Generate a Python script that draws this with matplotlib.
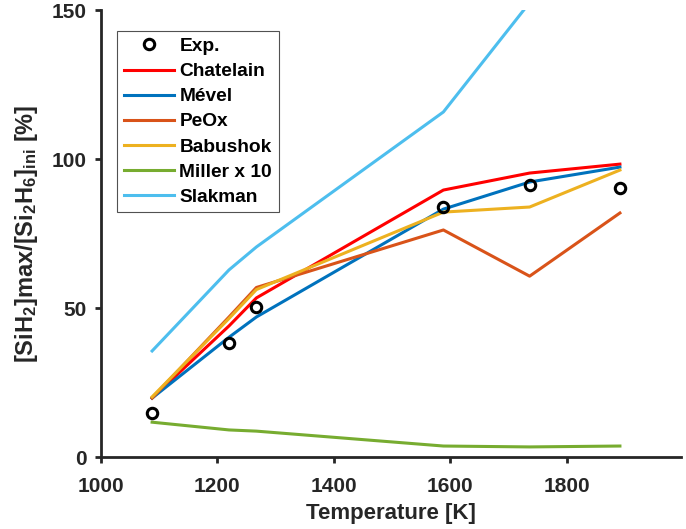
import numpy as np
import matplotlib
matplotlib.use("Agg")
import matplotlib.pyplot as plt

plt.rcParams['font.family'] = ['Liberation Sans', 'DejaVu Sans']
plt.rcParams['font.weight'] = 'bold'
plt.rcParams['mathtext.default'] = 'regular'

# temperatures [K]
T = [1088, 1220, 1267, 1588, 1736, 1891]

# measured yield
exp_vals = [14.8, 38.3, 50.2, 83.9, 91.3, 90.3]

# model predictions
chatelain = [19.8, 44.0, 53.4, 89.6, 95.3, 98.3]
mevel = [19.8, 40.2, 47.0, 83.2, 92.3, 97.3]
peox = [19.8, 47.0, 56.9, 76.2, 60.7, 81.9]
babushok = [20.2, 46.5, 56.2, 82.2, 83.9, 96.3]
miller_x10 = [11.7, 9.1, 8.7, 3.7, 3.4, 3.7]
T_slakman = [1088, 1220, 1267, 1588, 1736]
slakman = [35.6, 62.8, 70.5, 115.8, 152.5]

fig = plt.figure(figsize=(6.86, 5.29), dpi=100)
ax = fig.add_axes([0.147, 0.136, 0.845, 0.845])

lw = 2.2
ax.plot(T, exp_vals, 'o', color='black', markerfacecolor='none',
        markersize=7.5, markeredgewidth=2.2, label='Exp.', zorder=5)
ax.plot(T, chatelain, color='#FF0000', lw=lw, label='Chatelain')
ax.plot(T, mevel, color='#0072BD', lw=lw, label='Mével')
ax.plot(T, peox, color='#D95319', lw=lw, label='PeOx')
ax.plot(T, babushok, color='#EDB120', lw=lw, label='Babushok')
ax.plot(T, miller_x10, color='#77AC30', lw=lw, label='Miller x 10')
ax.plot(T_slakman, slakman, color='#4DBEEE', lw=lw, label='Slakman')

ax.set_xlim(1000, 1995)
ax.set_ylim(0, 150)
ax.set_xticks([1000, 1200, 1400, 1600, 1800])
ax.set_yticks([0, 50, 100, 150])

for side in ['top', 'right']:
    ax.spines[side].set_visible(False)
for side in ['left', 'bottom']:
    ax.spines[side].set_linewidth(2.0)
    ax.spines[side].set_color('#262626')
ax.tick_params(direction='out', length=4.5, width=2.0, color='#262626',
               labelsize=15, labelcolor='#262626')
ax.tick_params(axis='x', pad=10)
ax.tick_params(axis='y', pad=6)
for lab in ax.get_xticklabels() + ax.get_yticklabels():
    lab.set_fontweight('bold')

ax.set_xlabel('Temperature [K]', fontsize=16, fontweight='bold',
              color='#262626', labelpad=5)
ax.set_ylabel('[SiH$_2$]max/[Si$_2$H$_6$]$_{ini}$ [%]', fontsize=17,
              fontweight='bold', color='#262626', labelpad=8)

leg = ax.legend(loc='upper left', bbox_to_anchor=(0.028, 0.953), borderaxespad=0,
                fontsize=13.8, frameon=True, fancybox=False, edgecolor='#262626',
                handlelength=2.6, handletextpad=0.3, labelspacing=0.4,
                borderpad=0.35)
leg.get_frame().set_linewidth(0.8)
for txt in leg.get_texts():
    txt.set_fontweight('bold')

fig.savefig('out.png', dpi=100)
